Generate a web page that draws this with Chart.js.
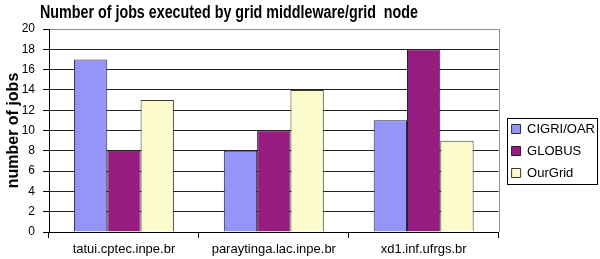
<!DOCTYPE html>
<html>
<head>
<meta charset="utf-8">
<script src="https://cdn.jsdelivr.net/npm/chart.js@4/dist/chart.umd.min.js"></script>
<style>
  html, body { margin: 0; padding: 0; background: #fff; }
  #wrap { width: 600px; height: 259px; }
</style>
</head>
<body>
<div id="wrap"><canvas id="myChart" width="600" height="259"></canvas></div>
<script>
const chartTitle = 'Number of jobs executed by grid middleware/grid  node';
const nodes = ['tatui.cptec.inpe.br', 'paraytinga.lac.inpe.br', 'xd1.inf.ufrgs.br'];
const cigriOar = [17, 8, 11];
const globus = [8, 10, 18];
const ourGrid = [13, 14, 9];
const yTicks = [0, 2, 4, 6, 8, 10, 12, 14, 16, 18, 20];

const FONT = "'Liberation Sans', Arial, sans-serif";

// title drawn where the original has it (left of centre, narrow bold face)
const titlePlugin = {
  id: 'fixedTitle',
  afterDraw(chart) {
    const ctx = chart.ctx;
    ctx.save();
    ctx.font = 'bold 18px ' + FONT;
    ctx.fillStyle = '#000';
    ctx.textBaseline = 'alphabetic';
    const w = ctx.measureText(chartTitle).width;
    ctx.translate(40, 18);
    ctx.scale(378 / w, 1);
    ctx.fillText(chartTitle, 0, 0);
    ctx.restore();
  }
};

// nudge the legend, grey border right of plot, box round the legend
const framePlugin = {
  id: 'frames',
  afterLayout(chart) {
    chart.legend.left += 4;
    chart.legend.right += 4;
    chart.legend.top += 7;
    chart.legend.bottom += 7;
  },
  beforeDatasetsDraw(chart) {
    const a = chart.chartArea;
    const ctx = chart.ctx;
    ctx.save();
    ctx.strokeStyle = '#8a8f8f';
    ctx.lineWidth = 1;
    ctx.beginPath();
    ctx.moveTo(Math.round(a.right) + 0.5, a.top);
    ctx.lineTo(Math.round(a.right) + 0.5, a.bottom);
    ctx.stroke();
    ctx.restore();
  },
  afterDraw(chart) {
    const ctx = chart.ctx;
    ctx.save();
    ctx.strokeStyle = '#000';
    ctx.lineWidth = 1;
    ctx.strokeRect(507.5, 118.5, 90, 66);
    ctx.restore();
  }
};

const ctx = document.getElementById('myChart').getContext('2d');
new Chart(ctx, {
  type: 'bar',
  data: {
    labels: nodes,
    datasets: [
      { label: 'CIGRI/OAR', data: cigriOar, backgroundColor: '#9595f7', borderColor: '#2a2a40', borderWidth: 1 },
      { label: 'GLOBUS', data: globus, backgroundColor: '#971c80', borderColor: '#2a1a2a', borderWidth: 1 },
      { label: 'OurGrid', data: ourGrid, backgroundColor: '#fbfbcc', borderColor: '#3a3a30', borderWidth: 1 }
    ]
  },
  options: {
    responsive: false,
    animation: false,
    devicePixelRatio: 1,
    layout: { padding: { top: 29, left: 2, right: -1, bottom: 0 } },
    datasets: { bar: { categoryPercentage: 0.667, barPercentage: 1 } },
    scales: {
      x: {
        offset: true,
        afterFit(axis) { axis.height = 27; },
        grid: { offset: true, drawOnChartArea: false, drawTicks: true, tickLength: 6, color: '#000' },
        border: { color: '#000', width: 1 },
        ticks: { color: '#000', font: { family: FONT, size: 13 }, padding: 4, maxRotation: 0 }
      },
      y: {
        min: 0,
        max: 20,
        afterFit(axis) { axis.width = 47; },
        afterBuildTicks(axis) { axis.ticks = yTicks.map(v => ({ value: v })); },
        grid: {
          color: c => (c.tick && c.tick.value === 20 ? '#8a8f8f' : '#222'),
          tickColor: '#000',
          tickLength: 6,
          lineWidth: 1
        },
        border: { color: '#000', width: 1 },
        ticks: { color: '#000', font: { family: FONT, size: 12 }, padding: 8 },
        title: {
          display: true,
          text: 'number of jobs',
          color: '#000',
          font: { family: FONT, size: 16, weight: 'bold' },
          padding: { top: 2, bottom: 0 }
        }
      }
    },
    plugins: {
      title: { display: false },
      tooltip: { enabled: false },
      legend: {
        display: true,
        position: 'right',
        align: 'center',
        labels: {
          color: '#000',
          font: { family: FONT, size: 13 },
          boxWidth: 9,
          boxHeight: 9,
          padding: 9
        }
      }
    }
  },
  plugins: [titlePlugin, framePlugin]
});
</script>
</body>
</html>
